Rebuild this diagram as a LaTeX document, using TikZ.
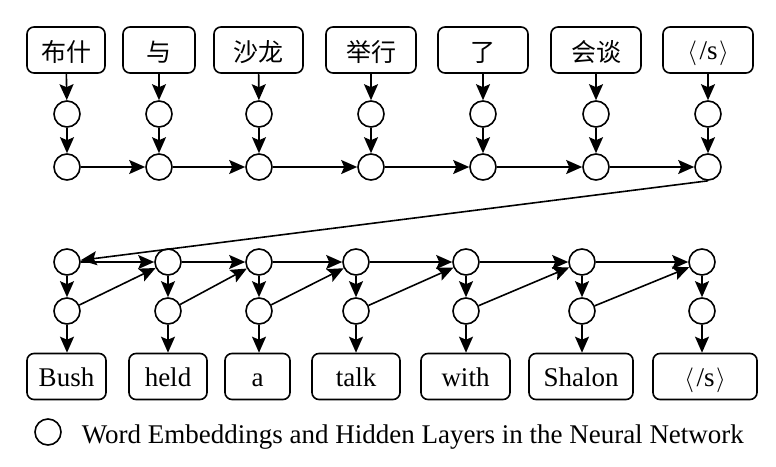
\documentclass[tikz,border=0pt]{standalone}
\usepackage{fontspec}
\setmainfont{Liberation Serif}
\newfontfamily\cjk{Noto Sans CJK SC}
\usetikzlibrary{arrows.meta}
\newcommand{\eos}{$\langle\mkern2mu$/s$\mkern1mu\rangle$}
\begin{document}
\begin{tikzpicture}[x=1pt,y=-1pt, line width=1.6pt,
 wbox/.style={draw, rounded corners=7pt, minimum height=46pt, inner sep=0pt, text height=21pt, text depth=2pt, font=\fontsize{27}{30}\selectfont},
 cbox/.style={wbox, text height=23pt, text depth=1pt, font=\cjk\fontsize{25}{30}\selectfont},
 cir/.style={draw, circle, minimum size=26pt, inner sep=0pt},
 arr/.style={-{Stealth[length=16pt,width=14pt,inset=3pt]}}]
\useasboundingbox (0,0) rectangle (776,466);
% top boxes
\node[cbox, minimum width=78pt] (t1) at (66,50) {布什};
\node[cbox, minimum width=72pt] (t2) at (159,50) {与};
\node[cbox, minimum width=89pt] (t3) at (258.5,50) {沙龙};
\node[cbox, minimum width=90pt] (t4) at (371,50) {举行};
\node[cbox, minimum width=90pt] (t5) at (483,50) {了};
\node[cbox, minimum width=90pt] (t6) at (596,50) {会谈};
\node[wbox, minimum width=90pt] (t7) at (708,50) {\eos};
% top circles
\foreach \i/\x in {1/67,2/159,3/259,4/371,5/483,6/596,7/708}{
  \node[cir] (t\i a) at (\x,114) {};
  \node[cir] (t\i b) at (\x,167) {};
  \draw[arr] (t\i) -- (t\i a);
  \draw[arr] (t\i a) -- (t\i b);
}
\foreach \i/\j in {1/2,2/3,3/4,4/5,5/6,6/7}{
  \draw[arr] (t\i b) -- (t\j b);
}
% bottom boxes
\node[wbox, minimum width=79pt] (b1) at (66.5,376.5) {Bush};
\node[wbox, minimum width=78pt] (b2) at (168,376.5) {held};
\node[wbox, minimum width=65pt] (b3) at (257.5,376.5) {a};
\node[wbox, minimum width=88pt] (b4) at (356,376.5) {talk};
\node[wbox, minimum width=89pt] (b5) at (465.5,376.5) {with};
\node[wbox, minimum width=104pt] (b6) at (581,376.5) {Shalon};
\node[wbox, minimum width=104pt] (b7) at (705,376.5) {\eos};
\foreach \i/\x in {1/67,2/168,3/259,4/356,5/466,6/582,7/702}{
  \node[cir] (b\i a) at (\x,262) {};
  \node[cir] (b\i b) at (\x,311) {};
  \draw[arr] (b\i a) -- (b\i b);
  \draw[arr] (b\i b) -- (b\i b |- b\i.north);
}
\foreach \i/\j in {1/2,2/3,3/4,4/5,5/6,6/7}{
  \draw[arr] (b\i a) -- (b\j a);
  \draw[arr] (b\i b) -- (b\j a);
}
\draw[arr] (t7b.south) -- (b1a);
% legend
\node[cir] (leg) at (48,432) {};
\node[anchor=base west, inner sep=0pt, font=\fontsize{27}{30}\selectfont] (legt) at (81,443) {Word Embeddings and Hidden Layers in the Neural Network};
\end{tikzpicture}
\end{document}
